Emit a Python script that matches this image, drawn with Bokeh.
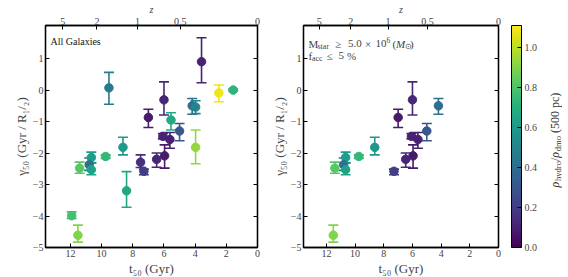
import math
from bokeh.plotting import figure
from bokeh.models import (Range1d, LinearAxis, FixedTicker, ColumnDataSource,
                          LinearColorMapper, ColorBar, Label, PrintfTickFormatter)
from bokeh.transform import transform
from bokeh.palettes import Viridis256
from bokeh.layouts import row
from bokeh.embed import file_html
from bokeh.resources import INLINE

# ---------------- data ----------------
t50 = [9.53, 3.59, 2.48, 1.56, 6.00, 7.00, 5.55, 4.19, 3.97, 5.00, 3.97, 6.07, 5.62,
       5.96, 6.47, 7.50, 7.29, 8.63, 8.40, 9.74, 10.66, 10.80, 10.66, 11.41, 11.92, 11.52]
gamma50 = [0.07, 0.90, -0.09, 0.00, -0.31, -0.87, -0.95, -0.50, -0.54, -1.30, -1.82, -1.47, -1.57,
           -2.09, -2.20, -2.29, -2.58, -1.82, -3.20, -2.11, -2.14, -2.37, -2.53, -2.48, -3.99, -4.61]
gamma_hi = [0.56, 1.66, 0.16, 0.03, 0.26, -0.61, -0.72, -0.27, -0.34, -1.06, -1.27, -1.38, -1.35,
            -1.74, -2.00, -2.06, -2.51, -1.50, -2.59, -2.06, -1.97, -2.16, -2.32, -2.29, -3.87, -4.29]
gamma_lo = [-0.45, 0.23, -0.37, -0.03, -0.79, -1.19, -1.27, -0.77, -0.75, -1.61, -2.34, -1.55, -1.85,
            -2.48, -2.45, -2.46, -2.69, -2.06, -3.72, -2.17, -2.30, -2.55, -2.69, -2.64, -4.08, -4.83]
rho_ratio = [0.46, 0.11, 1.08, 0.72, 0.13, 0.08, 0.68, 0.41, 0.50, 0.30, 0.93, 0.11, 0.10,
             0.08, 0.12, 0.15, 0.20, 0.60, 0.66, 0.74, 0.62, 0.42, 0.64, 0.82, 0.78, 0.90]
in_subset = [False, False, False, False, True, True, False, True, False, True, False, True, True,
             True, True, False, True, True, False, True, True, True, True, True, False, True]

t_ticks = [0, 2, 4, 6, 8, 10, 12]
gamma_ticks = [-5, -4, -3, -2, -1, 0, 1]
z_tick_labels = ["5", "2", "1", "0.5", "0"]
z_tick_lookback = [12.5, 10.3, 7.7, 4.95, 0.0]
cbar_ticks = [0.0, 0.2, 0.4, 0.6, 0.8, 1.0]
cbar_low, cbar_high = 0.0, 1.11
t_range = (13.6, 0.0)
gamma_range = (-5.0, 2.05)

FONT = "Liberation Serif"
TOP, BOT = 24, 28
FH = 222
NB = "\u00a0"
mapper = LinearColorMapper(palette=Viridis256, low=cbar_low, high=cbar_high)

CW = {'ρ': 0.55, 'h': 0.5, 'y': 0.5, 'd': 0.5, 'r': 0.333, 'o': 0.5, '/': 0.278, 'm': 0.778,
      NB: 0.25, '(': 0.333, ')': 0.333, 'p': 0.5, 'c': 0.444}


def text_width(s, size):
    return sum(CW.get(ch, 0.5) for ch in s) * size


def piece_label(p, txt, x, y, size, style="normal", color="#222222", angle=0.0):
    p.add_layout(Label(x=x, y=y, x_units="screen", y_units="screen", text=txt, angle=angle,
                       text_font=FONT, text_font_size=f"{size}px", text_font_style=style,
                       text_color=color, text_baseline="alphabetic", text_align="left"))


def minus(v):
    return str(v).replace("-", "\u2212")


def style_axis(ax, labels=True):
    ax.major_tick_in = 4
    ax.major_tick_out = 0
    ax.minor_tick_line_color = None
    ax.axis_line_color = "black"
    ax.axis_line_width = 1.3
    ax.major_tick_line_color = "black"
    ax.major_label_text_font = FONT
    ax.major_label_text_font_size = "10px"
    ax.major_label_standoff = 2 if labels else 0
    ax.axis_label_text_font = FONT
    ax.axis_label_text_font_size = "13px"
    ax.axis_label_text_font_style = "normal"
    ax.axis_label_standoff = 1


def make_panel(mask, fw, bl, br):
    src = ColumnDataSource(dict(
        t=[v for v, m in zip(t50, mask) if m],
        g=[v for v, m in zip(gamma50, mask) if m],
        hi=[v for v, m in zip(gamma_hi, mask) if m],
        lo=[v for v, m in zip(gamma_lo, mask) if m],
        rho=[v for v, m in zip(rho_ratio, mask) if m],
    ))
    p = figure(frame_width=fw, frame_height=FH, x_range=Range1d(*t_range),
               y_range=Range1d(*gamma_range), output_backend="svg", toolbar_location=None,
               min_border_left=bl, min_border_right=br, min_border_top=TOP,
               min_border_bottom=BOT)
    p.grid.visible = False
    p.outline_line_color = "black"
    p.outline_line_width = 1.3

    col = transform("rho", mapper)
    p.segment(x0="t", y0="lo", x1="t", y1="hi", source=src, line_color=col, line_width=1.6)
    p.scatter(x="t", y="hi", source=src, marker="dash", size=10, line_color=col, line_width=1.6)
    p.scatter(x="t", y="lo", source=src, marker="dash", size=10, line_color=col, line_width=1.6)
    p.scatter(x="t", y="g", source=src, marker="circle", size=8.5, fill_color=col, line_color=col)

    xa = p.xaxis[0]
    xa.ticker = FixedTicker(ticks=t_ticks)
    xa.axis_label = "t\u2085\u2080 (Gyr)"
    style_axis(xa)

    ya = p.yaxis[0]
    ya.ticker = FixedTicker(ticks=gamma_ticks)
    ya.major_label_overrides = {v: minus(v) for v in gamma_ticks}
    ya.axis_label = "\u03b3\u2085\u2080 (Gyr / R\u2081/\u2082)"
    style_axis(ya)

    ra = LinearAxis(ticker=FixedTicker(ticks=gamma_ticks),
                    major_label_overrides={v: "" for v in gamma_ticks})
    style_axis(ra, labels=False)
    p.add_layout(ra, "right")

    ta = LinearAxis(ticker=FixedTicker(ticks=z_tick_lookback),
                    major_label_overrides={v: s for v, s in zip(z_tick_lookback, z_tick_labels)},
                    axis_label="z")
    style_axis(ta)
    ta.major_label_standoff = 1
    ta.axis_label_text_font_style = "italic"
    ta.axis_label_text_font_size = "10px"
    ta.axis_label_standoff = 0
    p.add_layout(ta, "above")
    return p


p1 = make_panel([True] * len(t50), 212, 45, 8)
p1.add_layout(Label(x=5, y=FH - 16, x_units="screen", y_units="screen", text="All Galaxies",
                    text_font=FONT, text_font_size="10px", text_color="#111111",
                    text_baseline="alphabetic"))

p2 = make_panel(in_subset, 195, 38, 42)
GREY = "#444444"
line1 = [("M", 0.0, 0, 11, "normal"), ("star", 9.0, -2.5, 8, "normal"),
         ("\u2265", 26.5, 0, 11, "normal"), ("5.0", 39.5, 0, 11, "normal"),
         ("\u00d7", 56.5, 0, 11, "normal"), ("10", 67.0, 0, 11, "normal"),
         ("6", 78.0, 4, 7.5, "normal"), ("(", 84.0, 0, 11, "normal"),
         ("M", 87.5, 0, 11, "italic"), ("\u2299", 96.5, -2.5, 7.5, "normal"),
         (")", 101.5, 0, 11, "normal")]
for txt, dx, dy, size, style in line1:
    piece_label(p2, txt, 5 + dx, FH - 18 + dy, size, style, GREY)
line2 = [("f", 0.0, 0, 11, "normal"), ("acc", 3.5, -2.5, 8, "normal"),
         ("\u2264", 18.0, 0, 11, "normal"), ("5", 30.0, 0, 11, "normal"),
         ("%", 38.5, 0, 11, "normal")]
for txt, dx, dy, size, style in line2:
    piece_label(p2, txt, 5 + dx, FH - 30 + dy, size, style, GREY)

cb = ColorBar(color_mapper=mapper, ticker=FixedTicker(ticks=cbar_ticks),
              formatter=PrintfTickFormatter(format="%.1f"), width=10, height=FH,
              padding=0, margin=0, location=(13, 0),
              major_label_text_font=FONT, major_label_text_font_size="10px",
              major_tick_in=4, major_tick_out=0, major_tick_line_color="black",
              minor_tick_line_color=None, bar_line_color="black", bar_line_width=1,
              label_standoff=3, background_fill_color="white")
p2.add_layout(cb, "right")

# axis-free strip that carries the colour-bar title
p3 = figure(frame_width=22, frame_height=FH, x_range=Range1d(0, 1), y_range=Range1d(0, 1),
            output_backend="svg", toolbar_location=None, min_border_left=0,
            min_border_right=0, min_border_top=TOP, min_border_bottom=BOT)
p3.axis.visible = False
p3.grid.visible = False
p3.outline_line_color = None
cbar_title = [("\u03c1", 12, 0, "italic"), ("hydro", 8.5, -3, "normal"),
              ("/", 12, 0, "normal"), ("\u03c1", 12, 0, "italic"), ("dmo", 8.5, -3, "normal"),
              (NB + "(500" + NB + "pc)", 12, 0, "normal")]
pos = FH / 2 - 51
for txt, size, shift, style in cbar_title:
    piece_label(p3, txt, 14 - shift, pos, size, style, "#333333", angle=math.pi / 2)
    pos += text_width(txt, size)

layout = row(p1, p2, p3)
open("out.html", "w").write(file_html(layout, INLINE))
